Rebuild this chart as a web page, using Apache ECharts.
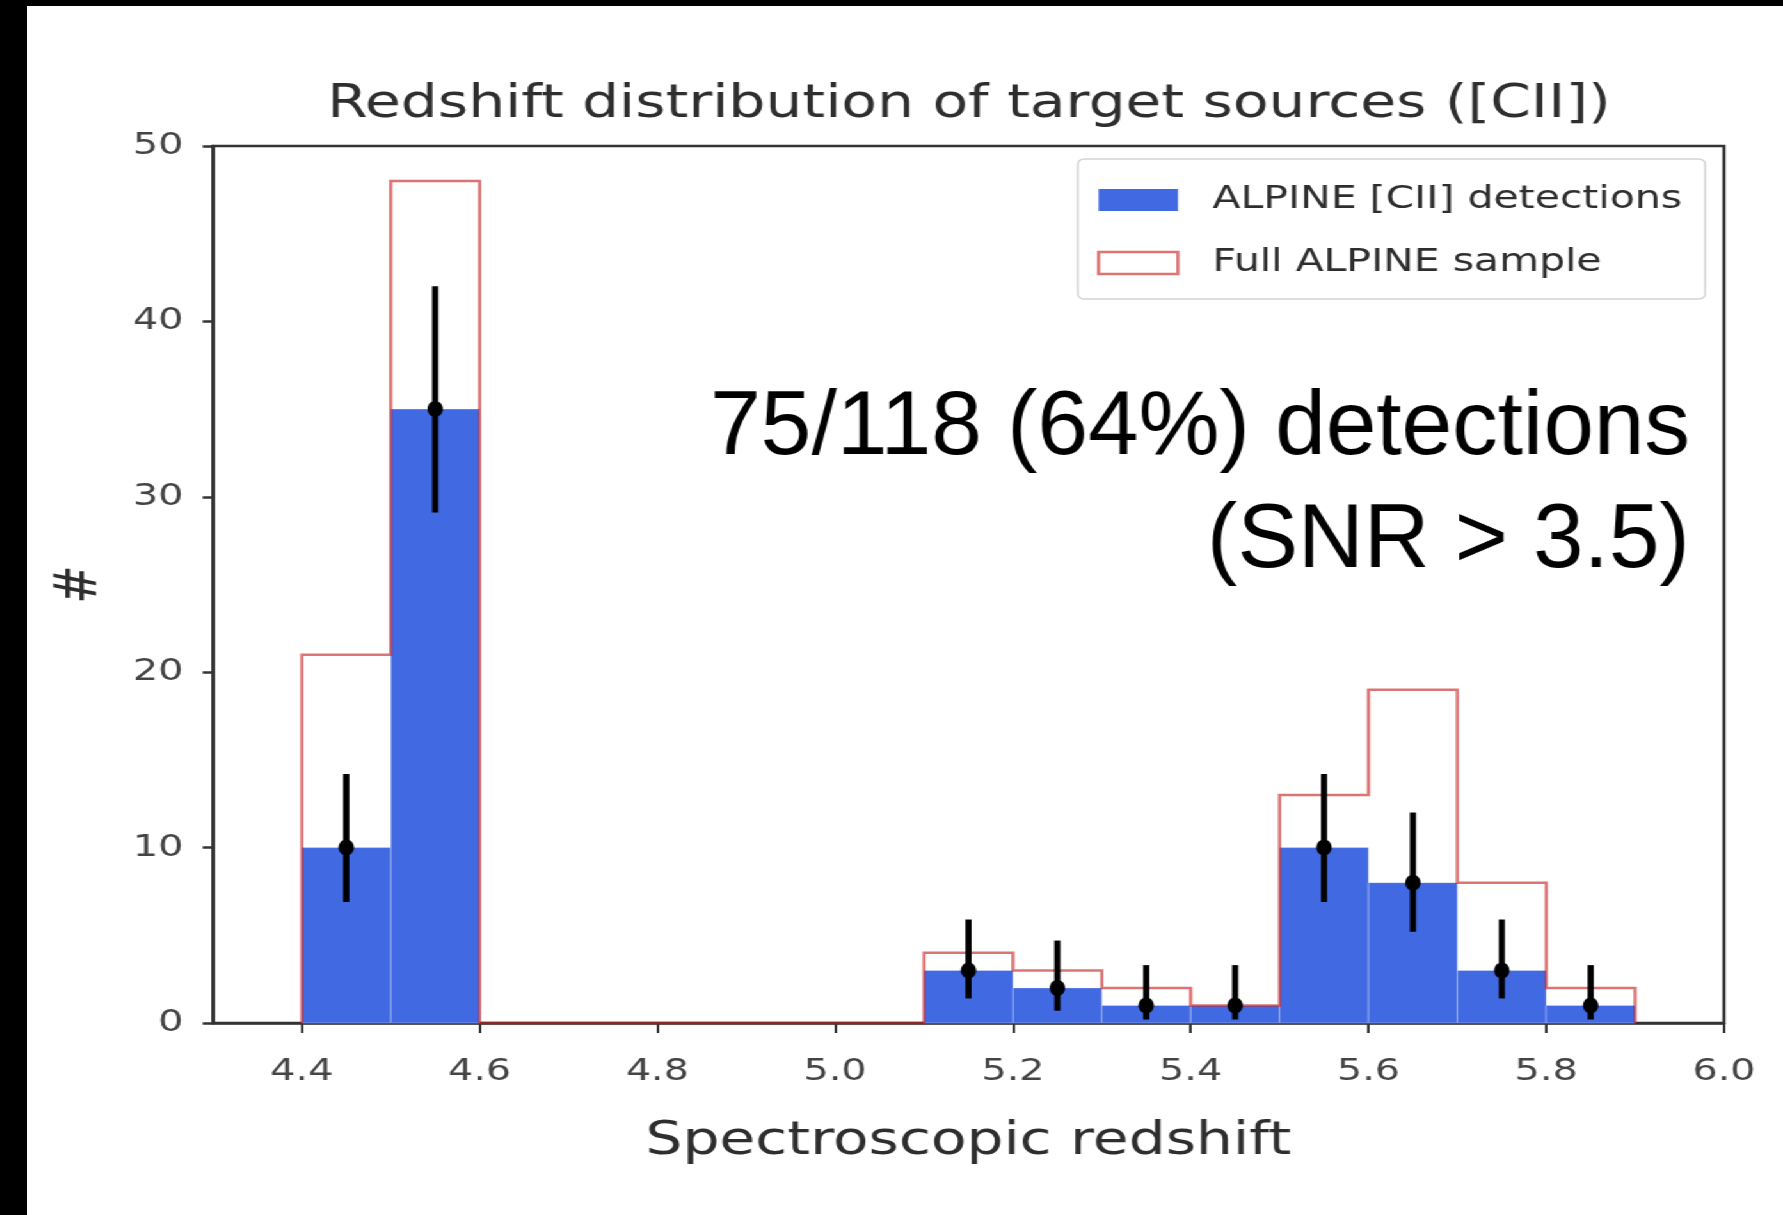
<!DOCTYPE html>
<html>
<head>
<meta charset="utf-8">
<title>Redshift distribution of target sources</title>
<script src="https://cdn.jsdelivr.net/npm/echarts@6/dist/echarts.min.js"></script>
<style>
  html, body { margin: 0; padding: 0; background: #000; overflow: hidden; width: 1783px; height: 1215px; }
  /* the figure is drawn at a narrower width and stretched horizontally */
  #chart { position: absolute; left: 27px; top: 6px; width: 1372px; height: 1209px; background: #fff;
           transform: scaleX(1.279883); transform-origin: 0 0; }
</style>
</head>
<body>
<div id="chart"></div>
<script>
// Histogram bin edges in spectroscopic redshift
const binEdges = [4.4, 4.5, 4.6, 4.7, 4.8, 4.9, 5.0, 5.1, 5.2, 5.3, 5.4, 5.5, 5.6, 5.7, 5.8, 5.9];
// Counts per bin
const detections = [10, 35, 0, 0, 0, 0, 0, 3, 2, 1, 1, 10, 8, 3, 1];
const fullSample = [21, 48, 0, 0, 0, 0, 0, 4, 3, 2, 1, 13, 19, 8, 2];
// Confidence limits on the detection counts (empty bins have none)
const errLow  = [6.9, 29.1, null, null, null, null, null, 1.4, 0.7, 0.2, 0.2, 6.9, 5.2, 1.4, 0.2];
const errHigh = [14.2, 42.0, null, null, null, null, null, 5.9, 4.7, 3.3, 3.3, 14.2, 12.0, 5.9, 3.3];
// Tick positions on the redshift axis
const xTicks = [4.4, 4.6, 4.8, 5.0, 5.2, 5.4, 5.6, 5.8, 6.0];

const STRETCH = 1.279883;
const FONT = '"DejaVu Sans", "Liberation Sans", sans-serif';
const NOTE_FONT = '91px "Liberation Sans", Arial, Helvetica, sans-serif';
const BLUE = '#4169E1';
const RED = 'rgba(200, 30, 30, 0.62)';

// filled bars: [left edge, right edge, count]
const barData = detections.map((c, i) => [binEdges[i], binEdges[i + 1], c]);

// step outline of the full sample, closed down to zero at both ends
const stepData = [[binEdges[0], 0]];
fullSample.forEach((c, i) => stepData.push([binEdges[i + 1], c]));
stepData.push([binEdges[binEdges.length - 1], 0]);

// error bars at bin centres: [centre, count, low, high]
const errData = [];
detections.forEach((c, i) => {
  if (errLow[i] !== null) errData.push([(binEdges[i] + binEdges[i + 1]) / 2, c, errLow[i], errHigh[i]]);
});

const chart = echarts.init(document.getElementById('chart'), null, { renderer: 'canvas' });

chart.setOption({
  animation: false,
  backgroundColor: '#fff',
  title: {
    text: 'Redshift distribution of target sources ([CII])',
    left: 736, top: 76, textAlign: 'center', padding: 0,
    textStyle: { fontFamily: FONT, fontSize: 45.5, fontWeight: 'normal', color: '#2e2e2e' }
  },
  grid: {
    left: 145.3, right: 46.1, top: 140, bottom: 192,
    show: true, borderColor: '#333', borderWidth: 2.5, backgroundColor: 'transparent'
  },
  legend: {
    orient: 'vertical', left: 821, top: 153,
    itemWidth: 62, itemHeight: 22, itemGap: 31,
    padding: [25, 18, 20, 15],
    backgroundColor: 'rgba(255,255,255,0.85)', borderColor: '#d4d4d4', borderWidth: 1.5, borderRadius: 5,
    selectedMode: false,
    textStyle: { fontFamily: FONT, fontSize: 32, color: '#2e2e2e', padding: [0, 0, 0, 22] },
    data: [
      { name: 'ALPINE [CII] detections', icon: 'rect', itemStyle: { color: BLUE, borderWidth: 0 } },
      { name: 'Full ALPINE sample', icon: 'rect', itemStyle: { color: '#fff', borderColor: RED, borderWidth: 2.5 } }
    ]
  },
  xAxis: {
    type: 'value', min: 4.3, max: 6.0,
    name: 'Spectroscopic redshift', nameLocation: 'middle', nameGap: 96,
    nameTextStyle: { fontFamily: FONT, fontSize: 45.5, color: '#2e2e2e' },
    axisLine: { show: true, onZero: false, lineStyle: { color: '#333', width: 2.5 } },
    axisTick: { show: true, customValues: xTicks, length: 10, lineStyle: { color: '#333', width: 2 } },
    axisLabel: { customValues: xTicks, formatter: v => v.toFixed(1), margin: 33,
                 fontFamily: FONT, fontSize: 31, color: '#444' },
    splitLine: { show: false }
  },
  yAxis: {
    type: 'value', min: 0, max: 50, interval: 10,
    name: '#', nameLocation: 'middle', nameRotate: 90, nameGap: 80,
    nameTextStyle: { fontFamily: FONT, fontSize: 46, color: '#2e2e2e' },
    axisLine: { show: true, lineStyle: { color: '#333', width: 2.5 } },
    axisTick: { show: true, length: 8, lineStyle: { color: '#333', width: 2.5 } },
    axisLabel: { margin: 23, fontFamily: FONT, fontSize: 31, color: '#444' },
    splitLine: { show: false }
  },
  series: [
    {
      name: 'ALPINE [CII] detections',
      type: 'custom',
      z: 2,
      itemStyle: { color: BLUE },
      encode: { x: [0, 1], y: 2 },
      data: barData,
      renderItem: (params, api) => {
        const h = api.value(2);
        if (!h) return null;
        const p0 = api.coord([api.value(0), h]);
        const p1 = api.coord([api.value(1), 0]);
        return {
          type: 'rect',
          shape: { x: p0[0], y: p0[1], width: p1[0] - p0[0], height: p1[1] - p0[1] },
          style: { fill: BLUE, stroke: 'rgba(255,255,255,0.3)', lineWidth: 1 }
        };
      }
    },
    {
      name: 'Full ALPINE sample',
      type: 'line',
      z: 3,
      step: 'start',
      symbol: 'none',
      clip: false,
      color: RED,
      lineStyle: { color: RED, width: 2.5, join: 'miter' },
      data: stepData
    },
    {
      name: 'errors',
      type: 'custom',
      z: 4,
      encode: { x: 0, y: [2, 3] },
      data: errData,
      renderItem: (params, api) => {
        const x = api.value(0);
        const pLo = api.coord([x, api.value(2)]);
        const pHi = api.coord([x, api.value(3)]);
        const pV = api.coord([x, api.value(1)]);
        return {
          type: 'group',
          children: [
            { type: 'line', shape: { x1: pLo[0], y1: pLo[1], x2: pHi[0], y2: pHi[1] },
              style: { stroke: '#000', lineWidth: 4.8 } },
            { type: 'ellipse', shape: { cx: pV[0], cy: pV[1], rx: 6, ry: 8 }, style: { fill: '#000' } }
          ]
        };
      }
    }
  ],
  graphic: [
    {
      type: 'text', x: 1299.3, y: 423, scaleX: 1 / STRETCH, z: 10,
      style: { text: '75/118 (64%) detections', font: NOTE_FONT,
               fill: '#000', textAlign: 'right', textVerticalAlign: 'middle', align: 'right', verticalAlign: 'middle' }
    },
    {
      type: 'text', x: 1299.3, y: 536, scaleX: 1 / STRETCH, z: 10,
      style: { text: '(SNR > 3.5)', font: NOTE_FONT,
               fill: '#000', textAlign: 'right', textVerticalAlign: 'middle', align: 'right', verticalAlign: 'middle' }
    }
  ]
});
</script>
</body>
</html>
